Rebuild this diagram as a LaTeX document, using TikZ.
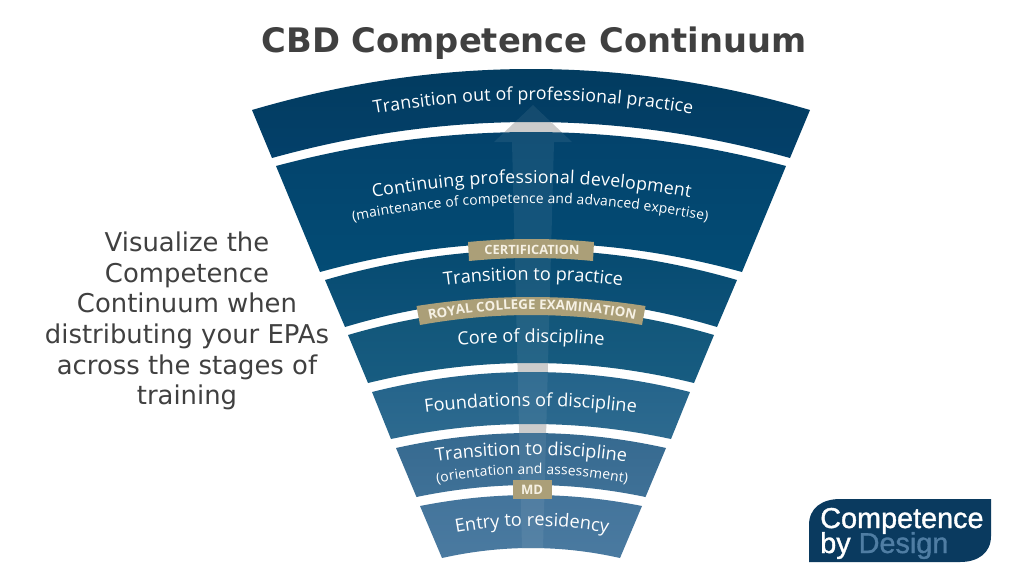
\documentclass[tikz,border=0pt]{standalone}
\usepackage{fontspec}
\setmainfont{DejaVu Sans}
\newfontfamily\bandfam{Open Sans}
\newfontfamily\logofam[FakeBold=1.2]{Liberation Sans}
\usetikzlibrary{decorations.text}
\definecolor{titlegray}{HTML}{404040}
\definecolor{badgetan}{HTML}{AB9F78}
\definecolor{badgetext}{HTML}{F6F1E4}
\definecolor{logoblue}{HTML}{0A3A5F}
\definecolor{logolight}{HTML}{4F7DA3}
\definecolor{arrowgray}{HTML}{C9C9C9}
\newcommand{\edge}[3]{(-#1+531,#2) .. controls ({531-#1/3},{#2+4/3*(#3-#2)}) and ({531+#1/3},{#2+4/3*(#3-#2)}) .. (531+#1,#2)}
\newcommand{\redge}[3]{-- (531+#1,#2) .. controls ({531+#1/3},{#2+4/3*(#3-#2)}) and ({531-#1/3},{#2+4/3*(#3-#2)}) .. (531-#1,#2) -- cycle}
% half-width top, y top, y mid top, half-width bottom, y bottom, y mid bottom, top colour, bottom colour
\newcommand{\band}[8]{\definecolor{bandtop}{HTML}{#7}\definecolor{bandbot}{HTML}{#8}\path[top color=bandtop,bottom color=bandbot] \edge{#1}{#2}{#3} \redge{#4}{#5}{#6};}
\newcommand{\badge}[6]{\path[fill=badgetan] \edge{#1}{#2}{#3} \redge{#4}{#5}{#6};}
\newcommand{\ctext}[6]{\path[decorate,decoration={text along path,text align=fit to path,text={|#5|#6}}]
  (#1,#3) .. controls ({#1+(#2-#1)/3},{#3+4/3*(#4-#3)}) and ({#1+2*(#2-#1)/3},{#3+4/3*(#4-#3)}) .. (#2,#3);}
\newcommand{\fL}{\bandfam\fontsize{13.3}{16}\selectfont\color{white}}
\newcommand{\fM}{\bandfam\fontsize{13.6}{16}\selectfont\color{white}}
\newcommand{\fS}{\bandfam\fontsize{10.4}{12}\selectfont\color{white}}
\newcommand{\fB}{\bandfam\bfseries\fontsize{10}{12}\selectfont\color{badgetext}}
\tikzset{
  leftnote/.style={text=titlegray,align=center,font=\fontsize{19.4}{23}\selectfont,inner sep=0pt},
  logotext/.style={anchor=base west,inner sep=0pt,font=\logofam\fontsize{21.6}{24}\selectfont},
}
\newcommand{\arrowshape}{(533,105) -- (572,142) -- (554,142) -- (543,548) -- (522,548) -- (512,142) -- (494,142) -- cycle}
\begin{document}
\begin{tikzpicture}[x=0.75pt,y=-0.75pt]
\useasboundingbox (0,0) rectangle (1024,576);
\fill[white] (0,0) rectangle (1024,576);
\node[text=titlegray,font=\bfseries\fontsize{25.3}{30}\selectfont,inner sep=0pt] (title) at (534,43) {CBD Competence Continuum};
\node[leftnote] (note) at (187,321) {Visualize the\\Competence\\Continuum when\\distributing your EPAs\\across the stages of\\training};
% arrow under bands (visible in the gaps)
\fill[arrowgray] \arrowshape;
% bands
\band{279}{110}{69}{259}{158}{122}{023B5E}{03406A}
\band{255}{166}{132}{211}{272}{243}{03426B}{034C75}
\band{206}{280}{250}{186}{327}{299}{064A70}{0D5279}
\band{183}{335}{308}{163}{383}{363}{115578}{175C81}
\band{159}{392}{372}{140}{439}{424}{23638A}{2D6A8F}
\band{135}{448}{433}{114.5}{497}{485}{35698F}{3F7197}
\band{111}{506}{495}{89}{558}{548}{43749B}{4A7AA0}
% arrow over bands
\fill[white,opacity=.07] \arrowshape;
% badges
\badge{63}{242}{239}{62}{261}{258}
\badge{114.5}{306}{297}{111}{325}{315}
\path[fill=badgetan] (512.5,480) rectangle (552,499);
% band text
\ctext{374}{692}{114}{100}{\fL}{Transition out of professional practice}
\ctext{373}{690}{198}{183}{\fL}{Continuing professional development}
\ctext{353}{707}{221}{203}{\fS}{(maintenance of competence and advanced expertise)}
\ctext{444}{622}{286}{280}{\fM}{Transition to practice}
\ctext{458}{604}{346}{342}{\fM}{Core of discipline}
\ctext{425}{636}{413}{406}{\fM}{Foundations of discipline}
\ctext{436}{626}{462}{455}{\fM}{Transition to discipline}
\ctext{437}{627}{483}{474}{\fS}{(orientation and assessment)}
\ctext{456}{608}{533}{526}{\fM}{Entry to residency}
\ctext{429}{635}{320}{309}{\fB}{ROYAL COLLEGE EXAMINATION}
\node[font=\bandfam\bfseries\fontsize{9.6}{12}\selectfont,text=badgetext,inner sep=0pt] (cert) at (532,250) {CERTIFICATION};
\node[font=\bandfam\bfseries\fontsize{9.8}{12}\selectfont,text=badgetext,inner sep=0pt] (md) at (532,489.5) {MD};
% logo
\path[fill=logoblue] (809,562) -- (809,525) .. controls (809,508) and (822,499) .. (840,499) -- (991,499) -- (991,536) .. controls (991,553) and (978,562) .. (960,562) -- cycle;
\node[logotext,text=white] (logoa) at (820,528) {Competence};
\node[logotext,text=white] (logob) at (820,553) {by \textcolor{logolight}{Design}};
\end{tikzpicture}
\end{document}
